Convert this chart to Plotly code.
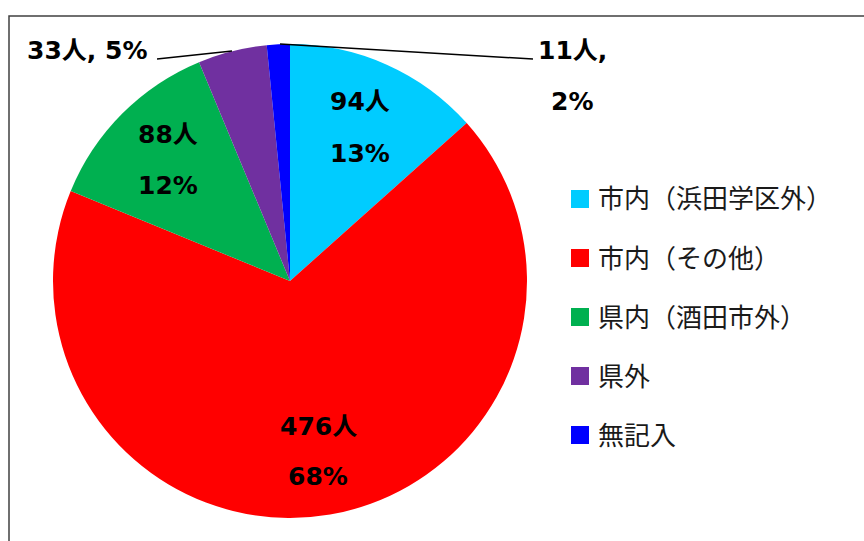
import plotly.graph_objects as go

categories = ["市内（浜田学区外）", "市内（その他）", "県内（酒田市外）", "県外", "無記入"]
counts = [94, 476, 88, 33, 11]
pct_labels = [13, 68, 12, 5, 2]
colors = ["#00CCFF", "#FF0000", "#00B050", "#7030A0", "#0000FF"]

W, H = 864, 541
def px(x, y):
    return x / W, 1 - y / H

fig = go.Figure(go.Pie(
    labels=categories, values=counts, sort=False, direction="clockwise", rotation=0,
    marker=dict(colors=colors, line=dict(width=0)), textinfo="none", hoverinfo="label+value+percent",
    showlegend=False,
    domain=dict(x=[px(53, 0)[0], px(527, 0)[0]], y=[px(0, 518)[1], px(0, 44)[1]]),
))

lab_font = dict(family="DejaVu Sans, Noto Sans CJK JP", size=25, color="#000000")
ann = []
def add_text(x, y, text, font=lab_font, xanchor="center"):
    xx, yy = px(x, y)
    ann.append(dict(x=xx, y=yy, xref="paper", yref="paper", text=text, showarrow=False,
                    font=font, xanchor=xanchor, yanchor="middle"))

# inside labels
inside_pos = {0: (360, 101, 360, 153), 1: (318, 426, 318, 477), 2: (168, 134, 168, 185)}
for i, (x1, y1, x2, y2) in inside_pos.items():
    add_text(x1, y1, f"<b>{counts[i]}人</b>")
    add_text(x2, y2, f"<b>{pct_labels[i]}%</b>")
# outside labels
add_text(87, 50, f"<b>{counts[3]}人, {pct_labels[3]}%</b>")
add_text(572, 51, f"<b>{counts[4]}人,</b>")
add_text(572, 101, f"<b>{pct_labels[4]}%</b>")

shapes = []
def line(x0, y0, x1, y1):
    a, b = px(x0, y0); c, d = px(x1, y1)
    shapes.append(dict(type="line", xref="paper", yref="paper", x0=a, y0=b, x1=c, y1=d,
                       line=dict(color="#000000", width=1.5)))
line(157, 59, 232, 51)
line(280, 44, 533, 59)

# frame (open at right and bottom edges)
fx0, fy1 = px(9, 16)
shapes.append(dict(type="rect", xref="paper", yref="paper", x0=fx0, y0=-0.1, x1=1.1, y1=fy1,
                   line=dict(color="#404040", width=1.5), fillcolor="rgba(0,0,0,0)", layer="below"))

# legend
leg_font = dict(family="Noto Sans CJK JP", size=26, color="#1a1a1a")
for i, (cat, col) in enumerate(zip(categories, colors)):
    cy = 199 + i * 59
    a, b = px(571, cy - 9); c, d = px(589, cy + 9)
    shapes.append(dict(type="rect", xref="paper", yref="paper", x0=a, y0=d, x1=c, y1=b,
                       fillcolor=col, line=dict(width=0)))
    add_text(596, cy - 2, cat, font=leg_font, xanchor="left")

fig.update_layout(width=W, height=H, margin=dict(l=0, r=0, t=0, b=0),
                  paper_bgcolor="white", plot_bgcolor="white",
                  annotations=ann, shapes=shapes)
fig.write_html("out.html", config={"displayModeBar": False},
               post_script="document.body.style.margin='0';document.body.style.overflow='hidden';")
